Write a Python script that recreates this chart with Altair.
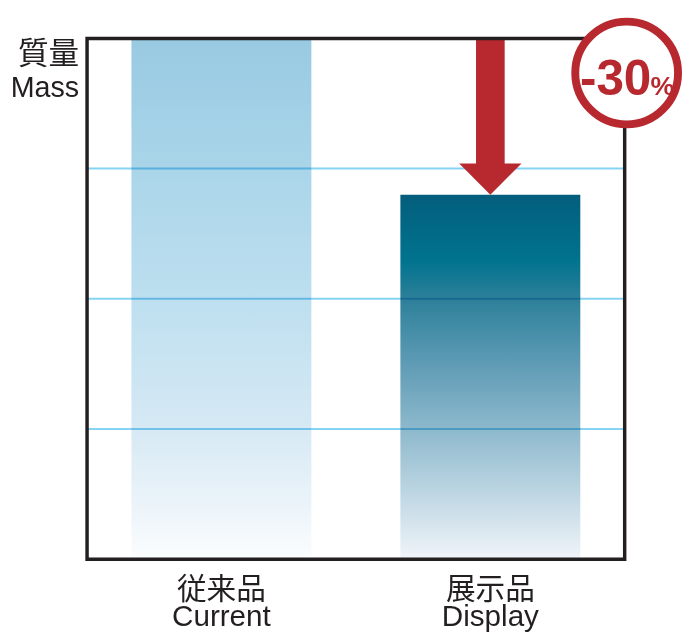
import altair as alt
import pandas as pd

# ---- data ----
categories = ["Current", "Display"]
labels_ja = ["従来品", "展示品"]
mass = [100, 70]
grid_values = [25, 50, 75]
y_title_ja = ["質量"]
y_title_en = ["Mass"]

reduction = round((mass[1] - mass[0]) / mass[0] * 100)
badge_num = [f"{reduction}"]
badge_pct = ["%"]

RED = "#b8292f"
FRAME = "#231f20"
W, H = 544, 527
CJK = "Noto Sans CJK JP"
LAT = "Liberation Sans"

df = pd.DataFrame({"category": categories, "label_ja": labels_ja, "mass": mass})
arrow_df = pd.DataFrame({"category": [categories[1]], "start": [mass[0]], "end": [mass[1]]})
grid_df = pd.DataFrame({"g": grid_values})

xs = alt.Scale(domain=categories, paddingInner=0.331, paddingOuter=0.165)
ys = alt.Scale(domain=[0, 100], nice=False, zero=True)
X = alt.X("category:N", scale=xs, axis=None, sort=categories)


def grad(stops):
    return alt.LinearGradient(
        gradient="linear", x1=0, x2=0, y1=0, y2=1,
        stops=[alt.GradientStop(offset=o, color=c) for o, c in stops],
    )


grad_current = grad([
    (0.00, "#98cae2"), (0.25, "#aad5e9"), (0.50, "#bddfef"),
    (0.75, "#d6e9f4"), (0.90, "#ecf4fa"), (1.00, "#fbfdfe"),
])
grad_display = grad([
    (0.00, "#035e7c"), (0.18, "#00738f"), (0.28, "#2b7f99"),
    (0.45, "#5b99b3"), (0.65, "#8fbacd"), (0.82, "#bed6e3"), (1.00, "#f0f5f9"),
])

base = alt.Chart(df)

bar_current = base.transform_filter(alt.datum.category == categories[0]).mark_bar(
    color=grad_current
).encode(x=X, y=alt.Y("mass:Q", scale=ys, axis=None))

bar_display = base.transform_filter(alt.datum.category == categories[1]).mark_bar(
    color=grad_display
).encode(x=X, y=alt.Y("mass:Q", scale=ys, axis=None))

grid = alt.Chart(grid_df).mark_rule(color="#86d4f3", strokeWidth=2, blend="multiply").encode(
    y=alt.Y("g:Q", scale=ys, axis=None)
)

shaft = alt.Chart(arrow_df).mark_rule(color=RED, strokeWidth=29, y2Offset=-20).encode(
    x=X, y=alt.Y("start:Q", scale=ys, axis=None), y2="end:Q"
)
head = alt.Chart(arrow_df).mark_point(
    shape="M-1,-1L1,-1L0,0Z", size=3969, filled=True, color=RED, opacity=1, strokeWidth=0
).encode(x=X, y=alt.Y("end:Q", scale=ys, axis=None))

frame = alt.Chart(pd.DataFrame({"a": [0]})).mark_rect(
    fillOpacity=0, stroke=FRAME, strokeWidth=3.5
).encode(x=alt.value(0), x2=alt.value(W), y=alt.value(0), y2=alt.value(H))

badge_df = pd.DataFrame({"num": badge_num, "pct": badge_pct})
badge_circle = alt.Chart(badge_df).mark_point(
    shape="circle", size=10816, filled=True, fill="white", stroke=RED, strokeWidth=8, opacity=1
).encode(x=alt.value(W + 2), y=alt.value(35))
badge_num_t = alt.Chart(badge_df).mark_text(
    font=LAT, fontWeight="bold", fontSize=50,
    color=RED, align="right", baseline="alphabetic"
).encode(x=alt.value(W + 27), y=alt.value(57), text="num:N")
badge_pct_t = alt.Chart(badge_df).mark_text(
    font=LAT, fontWeight="bold", fontSize=27,
    color=RED, align="left", baseline="alphabetic"
).encode(x=alt.value(W + 26), y=alt.value(57), text="pct:N")

ytitle_ja = alt.Chart(pd.DataFrame({"t": y_title_ja})).mark_text(
    font=CJK, fontSize=31, color="#231f20", align="right", baseline="alphabetic"
).encode(x=alt.value(-8), y=alt.value(26), text="t:N")
ytitle_en = alt.Chart(pd.DataFrame({"t": y_title_en})).mark_text(
    font=LAT, fontSize=29, color="#231f20", align="right", baseline="alphabetic"
).encode(x=alt.value(-8), y=alt.value(59), text="t:N")

xlab_ja = base.mark_text(
    font=CJK, fontSize=30, color="#231f20", align="center", baseline="alphabetic"
).encode(x=X, y=alt.value(H + 40), text="label_ja:N")
xlab_en = base.mark_text(
    font=LAT, fontSize=30, color="#231f20", align="center", baseline="alphabetic"
).encode(x=X, y=alt.value(H + 68), text="category:N")

chart = alt.layer(
    bar_current, bar_display, grid, shaft, head, frame,
    badge_circle, badge_num_t, badge_pct_t,
    ytitle_ja, ytitle_en, xlab_ja, xlab_en,
).properties(
    width=W, height=H,
    padding={"left": 80, "top": 27, "right": 58, "bottom": 80},
    autosize=alt.AutoSizeParams(type="none"),
).configure_view(stroke=None)

chart.save("out.html", embed_options={"renderer": "svg", "actions": False})
